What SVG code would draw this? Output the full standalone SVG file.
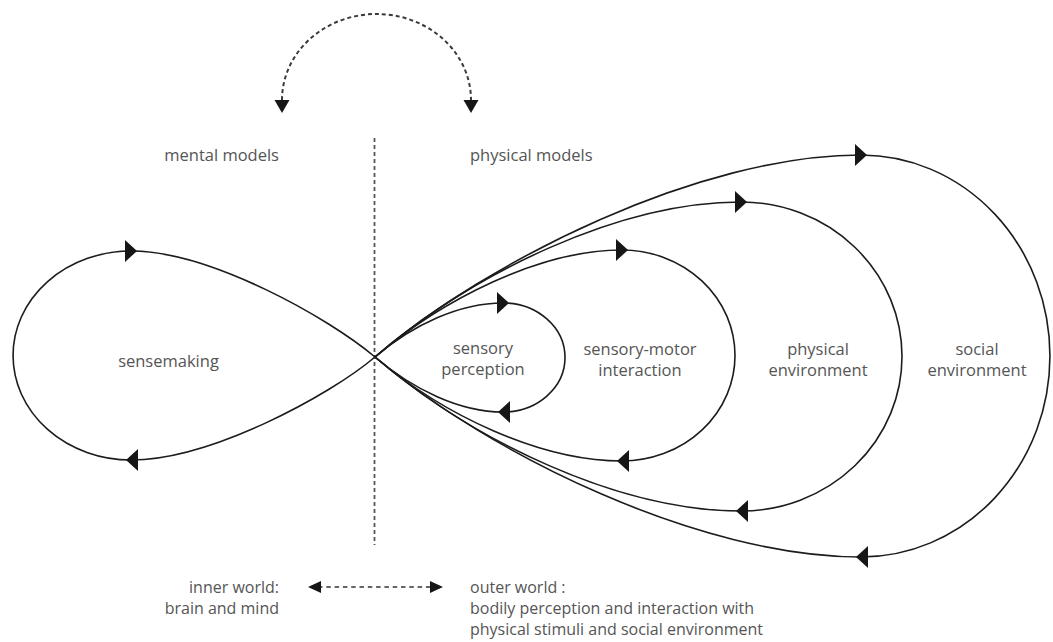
<svg xmlns="http://www.w3.org/2000/svg" width="1053" height="642" viewBox="0 0 1053 642">
  <style>
    .loop { fill: none; stroke: #1c1c1c; stroke-width: 1.6; }
    .dash { fill: none; stroke: #3a3a3a; stroke-width: 2; stroke-dasharray: 4 3; }
    .vline { fill: none; stroke: #555; stroke-width: 1.8; stroke-dasharray: 4 3; }
    .hint { fill: none; stroke: #333; stroke-width: 1.6; stroke-dasharray: 4.5 3.8; }
    .head { fill: #161616; }
    text { font-family: "Open Sans", "Liberation Sans", sans-serif; font-size: 16.5px; fill: #555; }
    .note { font-size: 16px; }
    .mid { text-anchor: middle; }
    .end { text-anchor: end; }
  </style>
  <defs>
    <!-- arrowhead pointing right, tip at origin -->
    <path id="ah" class="head" d="M0,0 L-12,-11 L-12,11 Z"/>
    <path id="ah-s" class="head" d="M0,0 L-13,-7.5 L-13,7.5 Z"/>
    <path id="ah-xs" class="head" d="M0,0 L-13,-6 L-13,6 Z"/>
  </defs>

  <rect width="1053" height="642" fill="#fff"/>

  <!-- connectors: divider and dashed double arrows -->
  <g id="connectors">
    <line class="vline" x1="374.5" y1="138" x2="374.5" y2="545"/>
    <path class="dash" d="M282 100 A94.5 86 0 0 1 471 100"/>
    <use href="#ah-s" transform="translate(282,113) rotate(90)"/>
    <use href="#ah-s" transform="translate(471,113) rotate(90)"/>
    <line class="hint" x1="318" y1="587" x2="433" y2="587"/>
    <use href="#ah-xs" transform="translate(308,587) rotate(180)"/>
    <use href="#ah-xs" transform="translate(443,587)"/>
  </g>

  <!-- inner loop -->
  <g id="sensemaking">
    <path class="loop" d="M375 357 C329 318, 210 251, 131 251 A118 104.5 0 0 0 131 460 C210 460, 329 396, 375 357"/>
    <use href="#ah" transform="translate(137,251)"/>
    <use href="#ah" transform="translate(126,460) rotate(180)"/>
    <text x="168.5" y="367" class="mid">sensemaking</text>
  </g>

  <!-- outer loops, innermost first -->
  <g id="sensory-perception">
    <path class="loop" d="M375 357 C413 324.5, 460 303, 503 303 A62 54.5 0 0 1 503 412 C460 412, 413 389.5, 375 357"/>
    <use href="#ah" transform="translate(509,303)"/>
    <use href="#ah" transform="translate(498,412) rotate(180)"/>
    <text x="483" y="354" class="mid">sensory</text>
    <text x="483" y="375" class="mid">perception</text>
  </g>

  <g id="sensory-motor">
    <path class="loop" d="M375 357 C443 299, 540 250, 622 250 A113 105.5 0 0 1 622 461 C540 461, 443 415, 375 357"/>
    <use href="#ah" transform="translate(628,250)"/>
    <use href="#ah" transform="translate(617,461) rotate(180)"/>
    <text x="640" y="355" class="mid">sensory-motor</text>
    <text x="640" y="376" class="mid">interaction</text>
  </g>

  <g id="physical-environment">
    <path class="loop" d="M375 357 C474 272, 620 202, 741 202 A161 154.5 0 0 1 741 511 C620 511, 474 442, 375 357"/>
    <use href="#ah" transform="translate(747,202)"/>
    <use href="#ah" transform="translate(736,511) rotate(180)"/>
    <text x="818" y="355" class="mid">physical</text>
    <text x="818" y="376" class="mid">environment</text>
  </g>

  <g id="social-environment">
    <path class="loop" d="M375 357 C489 259.5, 700 155, 861 155 A189 201 0 0 1 861 557 C700 557, 489 454.5, 375 357"/>
    <use href="#ah" transform="translate(867,155)"/>
    <use href="#ah" transform="translate(856,557) rotate(180)"/>
    <text x="977" y="355" class="mid">social</text>
    <text x="977" y="376" class="mid">environment</text>
  </g>

  <!-- side captions -->
  <g id="mental-models">
    <text x="279" y="161" class="end">mental models</text>
  </g>
  <g id="physical-models">
    <text x="470" y="161">physical models</text>
  </g>
  <g id="inner-world">
    <text x="279" y="593" class="end note">inner world:</text>
    <text x="279" y="614" class="end note">brain and mind</text>
  </g>
  <g id="outer-world">
    <text x="470" y="593" class="note">outer world :</text>
    <text x="470" y="614" class="note">bodily perception and interaction with</text>
    <text x="470" y="635" class="note">physical stimuli and social environment</text>
  </g>
</svg>
